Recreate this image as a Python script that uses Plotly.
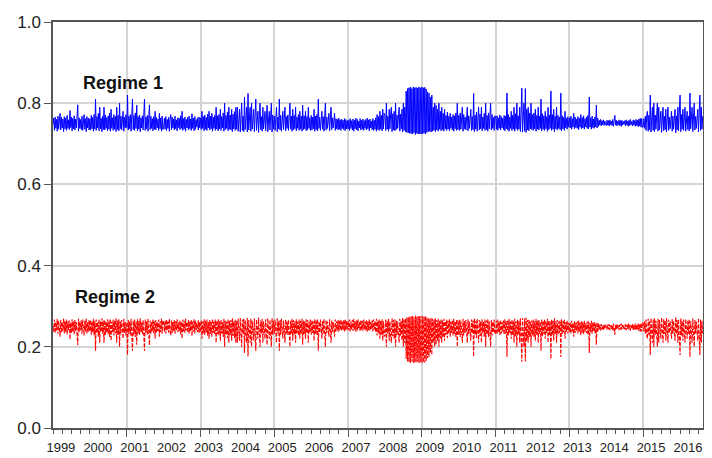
import pandas as pd
import plotly.graph_objects as go

# Regime 1 smoothed probabilities, weekly readings, one list per year
b1999 = [.748,.763,.733,.766,.738,.760,.731,.768,.736,.762,.775,.734,.765,
         .739,.761,.730,.767,.737,.764,.733,.770,.738,.759,.735,.782,.740,
         .766,.732,.763,.737,.769,.734,.761,.739,.767,.796,.731,.764,.738,
         .760,.735,.768,.733,.765,.772,.736,.762,.730,.767,.739,.763,.734]
b2000 = [.762,.734,.770,.737,.765,.731,.772,.736,.810,.733,.767,.739,.775,
         .732,.790,.737,.763,.730,.768,.735,.790,.734,.771,.738,.765,.732,
         .769,.736,.776,.731,.785,.738,.764,.733,.772,.736,.767,.730,.790,
         .735,.770,.732,.800,.737,.768,.734,.763,.780,.731,.766,.739,.772]
b2001 = [.740,.820,.734,.768,.737,.772,.731,.766,.810,.735,.770,.733,.776,
         .738,.795,.732,.767,.736,.771,.730,.764,.739,.769,.734,.773,.810,
         .733,.766,.737,.770,.731,.763,.796,.735,.768,.738,.762,.732,.767,
         .736,.780,.734,.765,.739,.761,.733,.775,.737,.764,.731,.768,.735]
b2002 = [.741,.763,.736,.767,.733,.760,.738,.765,.731,.762,.772,.735,.766,
         .739,.761,.734,.768,.737,.759,.732,.764,.740,.763,.735,.769,.738,
         .780,.733,.762,.736,.766,.731,.760,.739,.765,.734,.768,.737,.761,
         .733,.774,.738,.763,.732,.767,.736,.760,.741,.764,.734,.766,.739]
b2003 = [.764,.735,.780,.738,.767,.732,.771,.736,.765,.733,.773,.739,.780,
         .734,.768,.737,.775,.731,.766,.738,.770,.733,.790,.736,.769,.732,
         .772,.737,.785,.733,.767,.739,.776,.731,.800,.735,.770,.738,.778,
         .732,.790,.736,.771,.734,.785,.730,.773,.737,.779,.733,.790,.736]
b2004 = [.790,.731,.770,.785,.729,.775,.800,.733,.768,.730,.815,.735,.772,
         .790,.729,.824,.734,.771,.790,.731,.800,.736,.769,.785,.730,.774,
         .810,.733,.770,.780,.728,.772,.800,.735,.767,.731,.790,.737,.773,
         .780,.732,.769,.795,.730,.775,.780,.734,.766,.800,.729,.771,.736]
b2005 = [.768,.733,.772,.790,.730,.766,.737,.810,.734,.770,.731,.764,.780,
         .735,.769,.790,.732,.767,.738,.771,.733,.765,.800,.736,.768,.731,
         .785,.734,.770,.737,.790,.732,.766,.738,.772,.733,.780,.736,.768,
         .731,.795,.735,.769,.737,.780,.732,.767,.734,.790,.738,.764,.733]
b2006 = [.770,.734,.766,.737,.785,.731,.768,.735,.772,.732,.810,.738,.765,
         .733,.769,.780,.736,.767,.731,.771,.800,.734,.766,.738,.763,.775,
         .732,.768,.790,.735,.764,.739,.767,.775,.733,.762,.737,.760,.734,
         .763,.736,.759,.733,.761,.738,.758,.735,.762,.732,.760,.737,.757]
b2007 = [.736,.759,.733,.762,.738,.757,.734,.761,.731,.758,.737,.763,.735,
         .760,.732,.756,.739,.762,.734,.758,.736,.761,.733,.757,.738,.760,
         .734,.763,.737,.759,.732,.761,.739,.756,.735,.762,.733,.758,.736,
         .764,.731,.772,.735,.767,.733,.780,.736,.770,.732,.785,.737,.775]
b2008 = [.770,.733,.800,.736,.768,.731,.785,.737,.772,.790,.730,.774,.734,
         .780,.732,.800,.735,.771,.738,.767,.790,.731,.773,.736,.785,.729,
         .800,.733,.790,.730,.830,.728,.836,.727,.838,.726,.840,.725,.836,
         .724,.840,.727,.838,.723,.839,.726,.837,.724,.840,.725,.838,.724]
b2009 = [.840,.725,.838,.726,.839,.724,.835,.728,.828,.730,.825,.731,.815,
         .729,.820,.731,.790,.733,.800,.730,.795,.734,.785,.731,.800,.736,
         .780,.732,.790,.735,.775,.731,.785,.737,.770,.733,.778,.736,.768,
         .732,.775,.738,.766,.734,.772,.731,.769,.737,.776,.733,.800,.735]
b2010 = [.770,.733,.776,.736,.768,.790,.731,.772,.737,.766,.734,.774,.790,
         .732,.769,.738,.775,.785,.733,.767,.735,.824,.730,.771,.736,.778,
         .731,.768,.790,.734,.773,.737,.790,.732,.766,.738,.775,.733,.800,
         .735,.770,.731,.776,.737,.768,.800,.734,.772,.738,.765,.733,.769]
b2011 = [.766,.736,.769,.733,.764,.738,.771,.734,.767,.739,.763,.735,.770,
         .732,.768,.737,.825,.734,.772,.731,.766,.738,.780,.733,.770,.736,
         .790,.731,.774,.737,.800,.733,.769,.736,.790,.730,.775,.837,.729,
         .780,.800,.731,.836,.728,.785,.734,.790,.732,.776,.737,.800,.735]
b2012 = [.772,.733,.776,.737,.785,.731,.770,.736,.790,.734,.768,.738,.810,
         .732,.774,.736,.769,.733,.780,.737,.767,.731,.790,.735,.771,.738,
         .830,.733,.772,.736,.785,.730,.768,.737,.790,.734,.770,.738,.766,
         .735,.825,.732,.769,.737,.765,.733,.780,.739,.763,.736,.767,.741]
b2013 = [.764,.739,.768,.736,.762,.741,.775,.737,.766,.740,.761,.738,.767,
         .735,.763,.741,.772,.737,.765,.739,.769,.736,.762,.742,.766,.738,
         .770,.737,.815,.741,.764,.736,.768,.740,.761,.738,.766,.742,.795,
         .739,.763,.743,.758,.746,.760,.744,.757,.747,.759,.745,.756,.748]
b2014 = [.745,.758,.746,.757,.744,.759,.747,.756,.745,.760,.743,.757,.770,
         .746,.758,.744,.756,.747,.759,.745,.757,.743,.758,.746,.755,.748,
         .757,.744,.759,.746,.756,.743,.758,.745,.760,.747,.755,.744,.759,
         .746,.757,.743,.760,.745,.758,.742,.761,.744,.763,.741,.762,.740]
b2015 = [.742,.762,.738,.768,.733,.772,.780,.731,.770,.735,.820,.729,.775,
         .790,.733,.800,.730,.771,.736,.767,.800,.731,.790,.734,.769,.780,
         .728,.774,.790,.732,.768,.735,.785,.729,.772,.790,.733,.766,.737,
         .770,.780,.731,.768,.736,.773,.785,.727,.769,.734,.790,.732,.771]
b2016 = [.820,.730,.772,.736,.785,.733,.769,.790,.731,.774,.780,.735,.768,
         .732,.825,.737,.771,.790,.730,.775,.800,.734,.767,.738,.773,.785,
         .729,.770,.820,.733,.790,.736,.768]

# Regime 2 smoothed probabilities, weekly readings, one list per year
r1999 = [.252,.237,.267,.234,.262,.240,.269,.232,.264,.238,.225,.266,.235,
         .261,.239,.270,.233,.263,.236,.267,.230,.262,.241,.265,.218,.260,
         .234,.268,.237,.263,.231,.266,.239,.261,.233,.204,.269,.236,.262,
         .240,.265,.232,.267,.235,.228,.264,.238,.270,.233,.261,.237,.266]
r2000 = [.238,.266,.230,.263,.235,.269,.228,.264,.190,.267,.233,.261,.225,
         .268,.210,.263,.237,.270,.232,.265,.210,.266,.229,.262,.235,.268,
         .231,.264,.224,.269,.215,.262,.236,.267,.228,.264,.233,.270,.210,
         .265,.230,.268,.200,.263,.232,.266,.237,.220,.269,.234,.261,.228]
r2001 = [.260,.180,.266,.232,.263,.228,.269,.234,.190,.265,.230,.267,.224,
         .262,.205,.268,.233,.264,.229,.270,.236,.261,.231,.266,.227,.190,
         .267,.234,.263,.230,.269,.237,.204,.265,.232,.262,.238,.268,.233,
         .264,.220,.266,.235,.261,.239,.267,.225,.263,.236,.269,.232,.265]
r2002 = [.259,.237,.264,.233,.267,.240,.262,.235,.269,.238,.228,.265,.234,
         .261,.239,.266,.232,.263,.241,.268,.236,.260,.237,.265,.231,.262,
         .220,.267,.238,.264,.234,.269,.240,.261,.235,.266,.232,.263,.239,
         .267,.226,.262,.237,.268,.233,.264,.240,.259,.236,.266,.234,.261]
r2003 = [.236,.265,.220,.262,.233,.268,.229,.264,.235,.267,.227,.261,.220,
         .266,.232,.263,.225,.269,.234,.262,.230,.267,.210,.264,.231,.268,
         .228,.263,.215,.267,.233,.261,.224,.269,.200,.265,.230,.262,.222,
         .268,.210,.264,.229,.266,.215,.270,.227,.263,.221,.267,.210,.264]
r2004 = [.210,.269,.230,.215,.271,.225,.200,.267,.232,.270,.185,.265,.228,
         .210,.271,.176,.266,.229,.210,.269,.200,.264,.231,.215,.270,.226,
         .190,.267,.230,.220,.272,.228,.200,.265,.233,.269,.210,.263,.227,
         .220,.268,.231,.205,.270,.225,.220,.266,.234,.200,.271,.229,.264]
r2005 = [.232,.267,.228,.210,.270,.234,.263,.190,.266,.230,.269,.236,.220,
         .265,.231,.210,.268,.233,.262,.229,.267,.235,.200,.264,.232,.269,
         .215,.266,.230,.263,.210,.268,.234,.262,.228,.267,.220,.264,.232,
         .269,.205,.265,.231,.263,.220,.268,.233,.266,.210,.262,.236,.267]
r2006 = [.230,.266,.234,.263,.215,.269,.232,.265,.228,.268,.190,.262,.235,
         .267,.231,.220,.264,.233,.269,.229,.200,.266,.234,.262,.237,.225,
         .268,.232,.210,.265,.236,.261,.233,.225,.267,.238,.263,.240,.266,
         .237,.264,.241,.267,.239,.262,.242,.265,.238,.268,.240,.263,.243]
r2007 = [.264,.241,.267,.238,.262,.243,.266,.239,.269,.242,.263,.237,.265,
         .240,.268,.244,.261,.238,.266,.242,.264,.239,.267,.243,.262,.240,
         .266,.237,.263,.241,.268,.239,.261,.244,.265,.238,.267,.242,.264,
         .236,.269,.228,.265,.233,.267,.220,.264,.230,.268,.215,.263,.225]
r2008 = [.230,.267,.200,.264,.232,.269,.215,.263,.228,.210,.270,.226,.266,
         .220,.268,.200,.265,.229,.262,.233,.210,.269,.227,.264,.215,.271,
         .200,.267,.210,.270,.170,.272,.164,.273,.162,.274,.160,.275,.164,
         .276,.160,.273,.162,.277,.161,.274,.163,.276,.160,.275,.162,.276]
r2009 = [.160,.275,.162,.274,.161,.276,.165,.272,.172,.270,.175,.269,.185,
         .271,.180,.269,.210,.267,.200,.270,.205,.266,.215,.269,.200,.264,
         .220,.268,.210,.265,.225,.269,.215,.263,.230,.267,.222,.264,.232,
         .268,.225,.262,.234,.266,.228,.269,.231,.263,.224,.267,.200,.265]
r2010 = [.230,.267,.224,.264,.232,.210,.269,.228,.263,.234,.266,.226,.210,
         .268,.231,.262,.225,.215,.267,.233,.265,.176,.270,.229,.264,.222,
         .269,.232,.210,.266,.227,.263,.210,.268,.234,.262,.225,.267,.200,
         .265,.230,.269,.224,.263,.232,.200,.266,.228,.262,.235,.267,.231]
r2011 = [.234,.264,.231,.267,.236,.262,.229,.266,.233,.261,.237,.265,.230,
         .268,.232,.263,.175,.266,.228,.269,.234,.262,.220,.267,.230,.264,
         .210,.269,.226,.263,.200,.267,.231,.264,.210,.270,.225,.163,.271,
         .220,.200,.269,.164,.272,.215,.266,.210,.268,.224,.263,.200,.265]
r2012 = [.228,.267,.224,.263,.215,.269,.230,.264,.210,.266,.232,.262,.190,
         .268,.226,.264,.231,.267,.220,.263,.233,.269,.210,.265,.229,.262,
         .170,.267,.228,.264,.215,.270,.232,.263,.210,.266,.230,.262,.234,
         .265,.175,.268,.231,.263,.235,.267,.220,.261,.237,.264,.233,.259]
r2013 = [.236,.261,.232,.264,.238,.259,.225,.263,.234,.260,.239,.262,.233,
         .265,.237,.259,.228,.263,.235,.261,.231,.264,.238,.258,.234,.262,
         .230,.263,.185,.259,.236,.264,.232,.260,.239,.262,.234,.258,.205,
         .261,.237,.257,.242,.254,.240,.256,.243,.253,.241,.255,.244,.252]
r2014 = [.255,.242,.254,.243,.256,.241,.253,.244,.255,.240,.257,.243,.230,
         .254,.242,.256,.244,.253,.241,.255,.243,.257,.242,.254,.245,.252,
         .243,.256,.241,.254,.244,.257,.242,.255,.240,.253,.245,.256,.241,
         .254,.243,.257,.240,.255,.242,.258,.239,.256,.237,.259,.238,.260]
r2015 = [.258,.238,.262,.232,.267,.228,.220,.269,.230,.265,.180,.271,.225,
         .210,.267,.200,.270,.229,.264,.233,.200,.269,.210,.266,.231,.220,
         .272,.226,.210,.268,.232,.265,.215,.271,.228,.210,.267,.234,.263,
         .230,.220,.269,.232,.264,.227,.215,.273,.231,.266,.210,.268,.229]
r2016 = [.180,.270,.228,.264,.215,.267,.231,.210,.269,.226,.220,.265,.232,
         .268,.175,.263,.229,.210,.270,.225,.200,.266,.233,.262,.227,.215,
         .271,.230,.180,.267,.210,.264,.232]

years = list(range(1999, 2017))
year_labels = [str(y) for y in years]
y_ticks = [0.0, 0.2, 0.4, 0.6, 0.8, 1.0]

regime1_by_year = [b1999, b2000, b2001, b2002, b2003, b2004, b2005, b2006, b2007,
                   b2008, b2009, b2010, b2011, b2012, b2013, b2014, b2015, b2016]
regime2_by_year = [r1999, r2000, r2001, r2002, r2003, r2004, r2005, r2006, r2007,
                   r2008, r2009, r2010, r2011, r2012, r2013, r2014, r2015, r2016]

dates, regime1, regime2 = [], [], []
for yr, v1, v2 in zip(years, regime1_by_year, regime2_by_year):
    dates += list(pd.date_range(f"{yr}-01-01", periods=len(v1), freq="7D"))
    regime1 += v1
    regime2 += v2

x_range = ["1999-01-01", "2016-08-15"]
font_family = "Liberation Sans, Arial, Helvetica, sans-serif"
axis_col = "#555555"
grid_col = "#d4d4d4"

fig = go.Figure()
fig.add_trace(go.Scatter(x=dates, y=regime1, mode="lines", name="Regime 1",
                         line=dict(color="#0000ff", width=1), xaxis="x", yaxis="y"))
fig.add_trace(go.Scatter(x=dates, y=regime2, mode="lines", name="Regime 2",
                         line=dict(color="#ff0000", width=1.1, dash="4px,1.5px"),
                         xaxis="x2", yaxis="y"))

fig.update_layout(
    width=704, height=450,
    margin=dict(l=45, r=9, t=14, b=30, autoexpand=False),
    paper_bgcolor="white", plot_bgcolor="white",
    showlegend=False,
    font=dict(family=font_family, color="#222222"),
    xaxis=dict(
        type="date", range=x_range, automargin=False,
        tickmode="array",
        tickvals=[f"{y}-01-01" for y in years if y % 2 == 1 and y > 1999],
        ticks="outside", ticklen=7, tickcolor=axis_col, tickwidth=1,
        showticklabels=False,
        showgrid=True, gridcolor=grid_col, gridwidth=2,
        showline=True, linecolor=axis_col, linewidth=1.5, mirror=True,
        zeroline=False,
        minor=dict(tickmode="linear", tick0="1999-01-01", dtick="M3",
                   ticks="outside", ticklen=4, tickcolor=axis_col, showgrid=False),
    ),
    xaxis2=dict(
        type="date", range=x_range, overlaying="x", anchor="y", side="bottom",
        automargin=False,
        tickmode="array",
        tickvals=[f"{y}-03-20" for y in years],
        ticktext=year_labels,
        ticks="", showgrid=False, showline=False, zeroline=False,
        tickfont=dict(size=13, color="#222222"),
        ticklabelstandoff=10, ticklabeloverflow="allow",
    ),
    yaxis=dict(
        range=[0, 1], automargin=False,
        tickmode="array", tickvals=y_ticks, tickformat=".1f",
        ticks="outside", ticklen=7, tickcolor=axis_col,
        tickfont=dict(size=17, color="#222222"),
        showgrid=True, gridcolor=grid_col, gridwidth=2,
        showline=True, linecolor=axis_col, linewidth=1.5, mirror=True,
        zeroline=False,
    ),
)

fig.add_annotation(text="<b>Regime 1</b>", xref="paper", yref="paper",
                   x=0.107, y=0.85, xanchor="center", yanchor="middle", showarrow=False,
                   font=dict(size=18, color="#111111", family=font_family))
fig.add_annotation(text="<b>Regime 2</b>", xref="paper", yref="paper",
                   x=0.095, y=0.323, xanchor="center", yanchor="middle", showarrow=False,
                   font=dict(size=18, color="#111111", family=font_family))

fig.write_html("out.html")
